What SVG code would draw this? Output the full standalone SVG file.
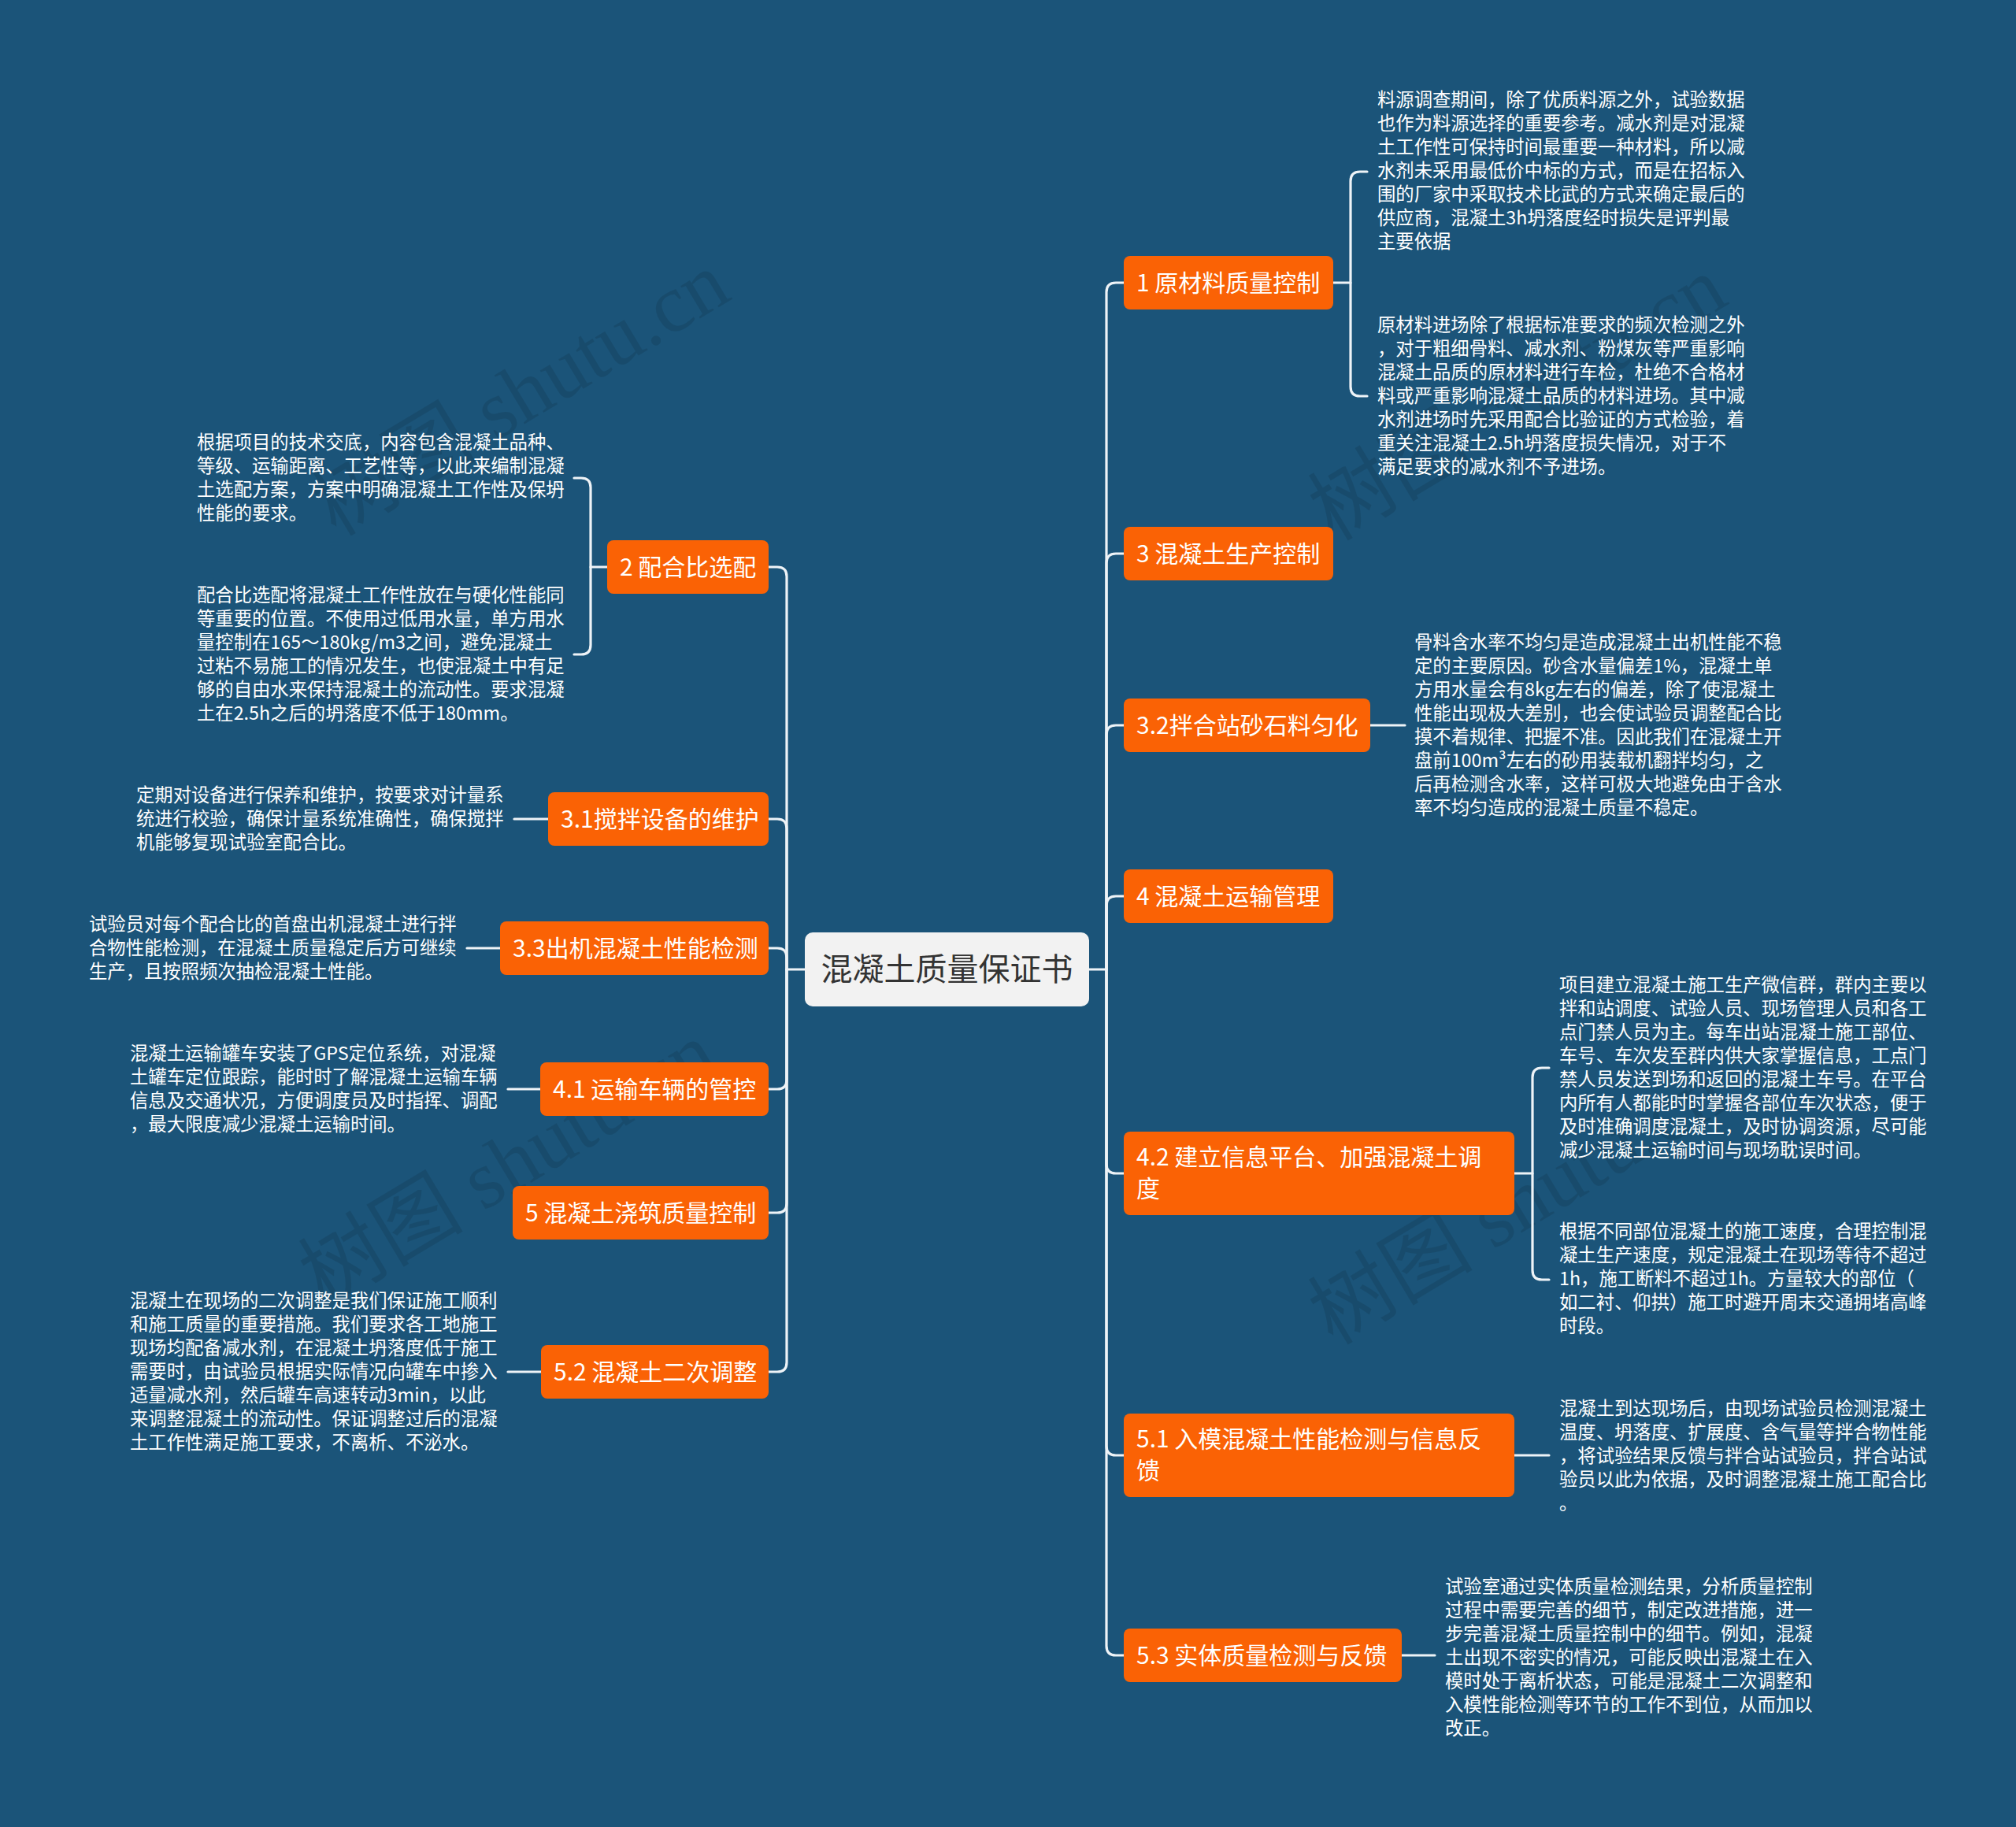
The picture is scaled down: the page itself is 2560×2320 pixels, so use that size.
<svg xmlns="http://www.w3.org/2000/svg" width="2560" height="2320" viewBox="0 0 2560 2320">
<style>
.bg{fill:#1b5479}
.node rect{fill:#fa6205}
.node text{fill:#ffffff;font-family:"Noto Sans CJK SC","Noto Sans",sans-serif;font-size:30px}
.root rect{fill:#f2f2f2}
.root text{fill:#333333;font-family:"Noto Sans CJK SC","Noto Sans",sans-serif;font-size:40px}
.leaf text{fill:#ffffff;font-family:"Noto Sans CJK SC","Noto Sans",sans-serif;font-size:23.33px}
.conn path{fill:none;stroke:#eef3f7;stroke-width:3.2;stroke-linecap:round}
.wm{fill:#000000;fill-opacity:0.1;font-family:"Liberation Serif","Noto Sans CJK SC",serif;font-size:105px}
</style>
<rect class="bg" x="0" y="0" width="2560" height="2320"/>

<g id="watermarks">
<text class="wm" transform="translate(661,500) rotate(-31)" text-anchor="middle" dominant-baseline="central">树图 shutu.cn</text>
<text class="wm" transform="translate(1927,506) rotate(-31)" text-anchor="middle" dominant-baseline="central">树图 shutu.cn</text>
<text class="wm" transform="translate(645,1478) rotate(-31)" text-anchor="middle" dominant-baseline="central">树图 shutu.cn</text>
<text class="wm" transform="translate(1927,1527) rotate(-31)" text-anchor="middle" dominant-baseline="central">树图 shutu.cn</text>
</g>

<g id="connectors" class="conn">
<!-- root to trunks -->
<path d="M1383,1231 H1405"/>
<path d="M1022,1231 H999"/>
<!-- right branches -->
<path d="M1405,1231 V371 Q1405,359 1417,359 H1427"/>
<path d="M1405,1231 V715 Q1405,703 1417,703 H1427"/>
<path d="M1405,1231 V933 Q1405,921 1417,921 H1427"/>
<path d="M1405,1231 V1150 Q1405,1138 1417,1138 H1427"/>
<path d="M1405,1231 V1478 Q1405,1490 1417,1490 H1427"/>
<path d="M1405,1231 V1836 Q1405,1848 1417,1848 H1427"/>
<path d="M1405,1231 V2090 Q1405,2102 1417,2102 H1427"/>
<!-- left branches -->
<path d="M999,1231 V732 Q999,720 987,720 H976"/>
<path d="M999,1231 V1052 Q999,1040 987,1040 H976"/>
<path d="M999,1231 V1216 Q999,1204 987,1204 H976"/>
<path d="M999,1231 V1371 Q999,1383 987,1383 H976"/>
<path d="M999,1231 V1528 Q999,1540 987,1540 H976"/>
<path d="M999,1231 V1730 Q999,1742 987,1742 H976"/>
<!-- node 1 bracket -->
<path d="M1693,359 H1715"/>
<path d="M1736,218 H1727 Q1715,218 1715,230 V491 Q1715,503 1727,503 H1736"/>
<!-- node 3.2 -->
<path d="M1740,921 H1784"/>
<!-- node 4.2 bracket -->
<path d="M1923,1490 H1946"/>
<path d="M1967,1356 H1958 Q1946,1356 1946,1368 V1613 Q1946,1625 1958,1625 H1967"/>
<!-- node 5.1 -->
<path d="M1923,1848 H1967"/>
<!-- node 5.3 -->
<path d="M1780,2102 H1822"/>
<!-- node 2 bracket -->
<path d="M771,720 H750"/>
<path d="M729,607 H738 Q750,607 750,619 V819 Q750,831 738,831 H729"/>
<!-- left leaves -->
<path d="M696,1040 H653"/>
<path d="M635,1204 H593"/>
<path d="M686,1383 H645"/>
<path d="M687,1742 H645"/>
</g>

<g id="root" class="root">
<rect x="1022" y="1184" width="361" height="94" rx="10"/>
<text x="1202.5" y="1245" text-anchor="middle">混凝土质量保证书</text>
</g>

<g id="n1" class="node"><rect x="1427" y="325" width="266" height="68" rx="8"/><text x="1443" y="370">1 原材料质量控制</text></g>
<g id="n3" class="node"><rect x="1427" y="669" width="266" height="68" rx="8"/><text x="1443" y="714">3 混凝土生产控制</text></g>
<g id="n32" class="node"><rect x="1427" y="887" width="313" height="68" rx="8"/><text x="1443" y="932">3.2拌合站砂石料匀化</text></g>
<g id="n4" class="node"><rect x="1427" y="1104" width="266" height="68" rx="8"/><text x="1443" y="1149">4 混凝土运输管理</text></g>
<g id="n42" class="node"><rect x="1427" y="1437" width="496" height="106" rx="8"/><text x="1443" y="1480">4.2 建立信息平台、加强混凝土调<tspan x="1443" y="1520">度</tspan></text></g>
<g id="n51" class="node"><rect x="1427" y="1795" width="496" height="106" rx="8"/><text x="1443" y="1838">5.1 入模混凝土性能检测与信息反<tspan x="1443" y="1878">馈</tspan></text></g>
<g id="n53" class="node"><rect x="1427" y="2068" width="353" height="68" rx="8"/><text x="1443" y="2113">5.3 实体质量检测与反馈</text></g>

<g id="n2" class="node"><rect x="771" y="686" width="205" height="68" rx="8"/><text x="787" y="731">2 配合比选配</text></g>
<g id="n31" class="node"><rect x="696" y="1006" width="280" height="68" rx="8"/><text x="712" y="1051">3.1搅拌设备的维护</text></g>
<g id="n33" class="node"><rect x="635" y="1170" width="341" height="68" rx="8"/><text x="651" y="1215">3.3出机混凝土性能检测</text></g>
<g id="n41" class="node"><rect x="686" y="1349" width="290" height="68" rx="8"/><text x="702" y="1394">4.1 运输车辆的管控</text></g>
<g id="n5" class="node"><rect x="651" y="1506" width="325" height="68" rx="8"/><text x="667" y="1551">5 混凝土浇筑质量控制</text></g>
<g id="n52" class="node"><rect x="687" y="1708" width="289" height="68" rx="8"/><text x="703" y="1753">5.2 混凝土二次调整</text></g>

<g id="t1a" class="leaf"><text x="1749" y="135">
<tspan x="1749" y="135">料源调查期间，除了优质料源之外，试验数据</tspan>
<tspan x="1749" y="165">也作为料源选择的重要参考。减水剂是对混凝</tspan>
<tspan x="1749" y="195">土工作性可保持时间最重要一种材料，所以减</tspan>
<tspan x="1749" y="225">水剂未采用最低价中标的方式，而是在招标入</tspan>
<tspan x="1749" y="255">围的厂家中采取技术比武的方式来确定最后的</tspan>
<tspan x="1749" y="285">供应商，混凝土3h坍落度经时损失是评判最</tspan>
<tspan x="1749" y="315">主要依据</tspan></text></g>

<g id="t1b" class="leaf"><text x="1749" y="421">
<tspan x="1749" y="421">原材料进场除了根据标准要求的频次检测之外</tspan>
<tspan x="1749" y="451">，对于粗细骨料、减水剂、粉煤灰等严重影响</tspan>
<tspan x="1749" y="481">混凝土品质的原材料进行车检，杜绝不合格材</tspan>
<tspan x="1749" y="511">料或严重影响混凝土品质的材料进场。其中减</tspan>
<tspan x="1749" y="541">水剂进场时先采用配合比验证的方式检验，着</tspan>
<tspan x="1749" y="571">重关注混凝土2.5h坍落度损失情况，对于不</tspan>
<tspan x="1749" y="601">满足要求的减水剂不予进场。</tspan></text></g>

<g id="t32" class="leaf"><text x="1796" y="824">
<tspan x="1796" y="824">骨料含水率不均匀是造成混凝土出机性能不稳</tspan>
<tspan x="1796" y="854">定的主要原因。砂含水量偏差1%，混凝土单</tspan>
<tspan x="1796" y="884">方用水量会有8kg左右的偏差，除了使混凝土</tspan>
<tspan x="1796" y="914">性能出现极大差别，也会使试验员调整配合比</tspan>
<tspan x="1796" y="944">摸不着规律、把握不准。因此我们在混凝土开</tspan>
<tspan x="1796" y="974">盘前100m³左右的砂用装载机翻拌均匀，之</tspan>
<tspan x="1796" y="1004">后再检测含水率，这样可极大地避免由于含水</tspan>
<tspan x="1796" y="1034">率不均匀造成的混凝土质量不稳定。</tspan></text></g>

<g id="t42a" class="leaf"><text x="1980" y="1259">
<tspan x="1980" y="1259">项目建立混凝土施工生产微信群，群内主要以</tspan>
<tspan x="1980" y="1289">拌和站调度、试验人员、现场管理人员和各工</tspan>
<tspan x="1980" y="1319">点门禁人员为主。每车出站混凝土施工部位、</tspan>
<tspan x="1980" y="1349">车号、车次发至群内供大家掌握信息，工点门</tspan>
<tspan x="1980" y="1379">禁人员发送到场和返回的混凝土车号。在平台</tspan>
<tspan x="1980" y="1409">内所有人都能时时掌握各部位车次状态，便于</tspan>
<tspan x="1980" y="1439">及时准确调度混凝土，及时协调资源，尽可能</tspan>
<tspan x="1980" y="1469">减少混凝土运输时间与现场耽误时间。</tspan></text></g>

<g id="t42b" class="leaf"><text x="1980" y="1572">
<tspan x="1980" y="1572">根据不同部位混凝土的施工速度，合理控制混</tspan>
<tspan x="1980" y="1602">凝土生产速度，规定混凝土在现场等待不超过</tspan>
<tspan x="1980" y="1632">1h，施工断料不超过1h。方量较大的部位（</tspan>
<tspan x="1980" y="1662">如二衬、仰拱）施工时避开周末交通拥堵高峰</tspan>
<tspan x="1980" y="1692">时段。</tspan></text></g>

<g id="t51" class="leaf"><text x="1980" y="1797">
<tspan x="1980" y="1797">混凝土到达现场后，由现场试验员检测混凝土</tspan>
<tspan x="1980" y="1827">温度、坍落度、扩展度、含气量等拌合物性能</tspan>
<tspan x="1980" y="1857">，将试验结果反馈与拌合站试验员，拌合站试</tspan>
<tspan x="1980" y="1887">验员以此为依据，及时调整混凝土施工配合比</tspan>
<tspan x="1980" y="1917">。</tspan></text></g>

<g id="t53" class="leaf"><text x="1835" y="2023">
<tspan x="1835" y="2023">试验室通过实体质量检测结果，分析质量控制</tspan>
<tspan x="1835" y="2053">过程中需要完善的细节，制定改进措施，进一</tspan>
<tspan x="1835" y="2083">步完善混凝土质量控制中的细节。例如，混凝</tspan>
<tspan x="1835" y="2113">土出现不密实的情况，可能反映出混凝土在入</tspan>
<tspan x="1835" y="2143">模时处于离析状态，可能是混凝土二次调整和</tspan>
<tspan x="1835" y="2173">入模性能检测等环节的工作不到位，从而加以</tspan>
<tspan x="1835" y="2203">改正。</tspan></text></g>

<g id="t2a" class="leaf"><text x="250" y="570">
<tspan x="250" y="570">根据项目的技术交底，内容包含混凝土品种、</tspan>
<tspan x="250" y="600">等级、运输距离、工艺性等，以此来编制混凝</tspan>
<tspan x="250" y="630">土选配方案，方案中明确混凝土工作性及保坍</tspan>
<tspan x="250" y="660">性能的要求。</tspan></text></g>

<g id="t2b" class="leaf"><text x="250" y="764">
<tspan x="250" y="764">配合比选配将混凝土工作性放在与硬化性能同</tspan>
<tspan x="250" y="794">等重要的位置。不使用过低用水量，单方用水</tspan>
<tspan x="250" y="824">量控制在165～180kg/m3之间，避免混凝土</tspan>
<tspan x="250" y="854">过粘不易施工的情况发生，也使混凝土中有足</tspan>
<tspan x="250" y="884">够的自由水来保持混凝土的流动性。要求混凝</tspan>
<tspan x="250" y="914">土在2.5h之后的坍落度不低于180mm。</tspan></text></g>

<g id="t31" class="leaf"><text x="173" y="1018">
<tspan x="173" y="1018">定期对设备进行保养和维护，按要求对计量系</tspan>
<tspan x="173" y="1048">统进行校验，确保计量系统准确性，确保搅拌</tspan>
<tspan x="173" y="1078">机能够复现试验室配合比。</tspan></text></g>

<g id="t33" class="leaf"><text x="113" y="1182">
<tspan x="113" y="1182">试验员对每个配合比的首盘出机混凝土进行拌</tspan>
<tspan x="113" y="1212">合物性能检测，在混凝土质量稳定后方可继续</tspan>
<tspan x="113" y="1242">生产，且按照频次抽检混凝土性能。</tspan></text></g>

<g id="t41" class="leaf"><text x="165" y="1346">
<tspan x="165" y="1346">混凝土运输罐车安装了GPS定位系统，对混凝</tspan>
<tspan x="165" y="1376">土罐车定位跟踪，能时时了解混凝土运输车辆</tspan>
<tspan x="165" y="1406">信息及交通状况，方便调度员及时指挥、调配</tspan>
<tspan x="165" y="1436">，最大限度减少混凝土运输时间。</tspan></text></g>

<g id="t52" class="leaf"><text x="165" y="1660">
<tspan x="165" y="1660">混凝土在现场的二次调整是我们保证施工顺利</tspan>
<tspan x="165" y="1690">和施工质量的重要措施。我们要求各工地施工</tspan>
<tspan x="165" y="1720">现场均配备减水剂，在混凝土坍落度低于施工</tspan>
<tspan x="165" y="1750">需要时，由试验员根据实际情况向罐车中掺入</tspan>
<tspan x="165" y="1780">适量减水剂，然后罐车高速转动3min，以此</tspan>
<tspan x="165" y="1810">来调整混凝土的流动性。保证调整过后的混凝</tspan>
<tspan x="165" y="1840">土工作性满足施工要求，不离析、不泌水。</tspan></text></g>
</svg>
